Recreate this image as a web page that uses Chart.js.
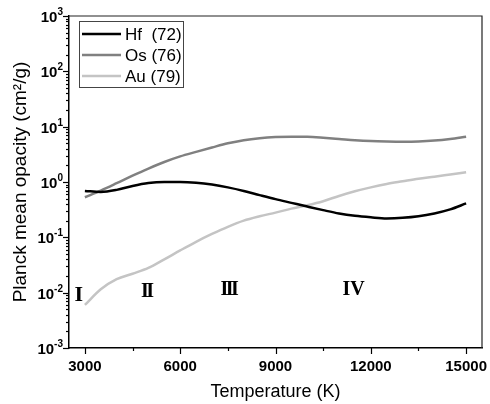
<!DOCTYPE html>
<html><head><meta charset="utf-8">
<script src="https://cdn.jsdelivr.net/npm/chart.js@4/dist/chart.umd.min.js"></script>
<style>html,body{margin:0;padding:0;background:#fff}</style>
</head><body>
<canvas id="c" width="490" height="404"></canvas>
<script>
// ---- data ----
const temperatures = [3000,3500,4000,4500,5000,5500,6000,6500,7000,7500,8000,8500,9000,9500,10000,10500,11000,11500,12000,12500,13000,13500,14000,14500,15000];
const hfValues = [0.69,0.66,0.72,0.85,0.96,1.0,1.0,0.97,0.9,0.8,0.69,0.58,0.49,0.42,0.36,0.31,0.27,0.245,0.23,0.22,0.225,0.24,0.27,0.32,0.41];
const osValues = [0.53,0.7,0.95,1.3,1.75,2.3,2.9,3.5,4.2,5.0,5.7,6.2,6.5,6.6,6.55,6.3,6.0,5.7,5.5,5.4,5.35,5.4,5.6,6.0,6.6];
const auValues = [0.006,0.0115,0.0175,0.022,0.028,0.04,0.058,0.083,0.115,0.155,0.2,0.24,0.28,0.33,0.38,0.45,0.56,0.68,0.8,0.92,1.03,1.15,1.25,1.37,1.5];
const seriesLabels = ['Hf  (72)','Os (76)','Au (79)'];
const seriesColors = ['#000000','#808080','#c4c4c4'];
const xTickValues = [3000,4500,6000,7500,9000,10500,12000,13500,15000];
const xLabelStep = 3000;
const yExponents = [-3,-2,-1,0,1,2,3];
const regionLabels = ['I','II','III','IV'];
const regionAnchorsT = [2810,4930,7520,11460];
const regionAnchorsY = [0.0091,0.0103,0.0112,0.0112];
const xTitle = 'Temperature (K)';
const yTitle = 'Planck mean opacity (cm\u00B2/g)';

const SANS = '"Liberation Sans", Arial, sans-serif';
const SERIF = '"Liberation Serif", "Times New Roman", serif';

function series(vals){ return temperatures.map((t,i)=>({x:t,y:vals[i]})); }

const deco = {
  id:'deco',
  afterDatasetsDraw(chart){
    const {ctx, chartArea:a, scales:{x,y}} = chart;
    ctx.save();
    // frame top/right
    ctx.strokeStyle='#222'; ctx.lineWidth=1.2;
    ctx.beginPath(); ctx.moveTo(a.left,a.top); ctx.lineTo(a.right,a.top); ctx.lineTo(a.right,a.bottom); ctx.stroke();
    // x tick marks
    ctx.strokeStyle='#000'; ctx.lineWidth=1.2;
    xTickValues.forEach(v=>{
      const px=Math.round(x.getPixelForValue(v))+0.5;
      const len = v%xLabelStep===0?6:3;
      ctx.beginPath(); ctx.moveTo(px,a.bottom); ctx.lineTo(px,a.bottom+len); ctx.stroke();
    });
    // y tick marks
    yExponents.forEach(e=>{
      const base=Math.pow(10,e);
      let py=Math.round(y.getPixelForValue(base))+0.5;
      ctx.beginPath(); ctx.moveTo(a.left-6,py); ctx.lineTo(a.left,py); ctx.stroke();
      if(e<3){
        for(let k=2;k<=9;k++){
          py=Math.round(y.getPixelForValue(k*base))+0.5;
          ctx.beginPath(); ctx.moveTo(a.left-3,py); ctx.lineTo(a.left,py); ctx.stroke();
        }
      }
    });
    // y labels with superscripts
    ctx.fillStyle='#000';
    const rightEdge = a.left-6;
    yExponents.forEach(e=>{
      const py=y.getPixelForValue(Math.pow(10,e));
      const exp = (e<0?'-':'')+Math.abs(e);
      ctx.font='bold 10px '+SANS;
      const we=ctx.measureText(exp).width;
      ctx.textAlign='left'; ctx.textBaseline='alphabetic';
      ctx.fillText(exp, rightEdge-we, py-1);
      ctx.font='bold 15px '+SANS;
      ctx.textAlign='right'; ctx.textBaseline='middle';
      ctx.fillText('10', rightEdge-we, py+2);
    });
    // legend
    ctx.strokeStyle='#444'; ctx.lineWidth=1;
    ctx.strokeRect(79.5,21.5,104,66);
    seriesLabels.forEach((lab,i)=>{
      const ly=34+i*21;
      ctx.strokeStyle=seriesColors[i]; ctx.lineWidth=2.5;
      ctx.beginPath(); ctx.moveTo(82,ly); ctx.lineTo(121,ly); ctx.stroke();
      ctx.fillStyle='#000'; ctx.font='17px '+SANS; ctx.textAlign='left'; ctx.textBaseline='middle';
      ctx.fillText(lab,125,ly+1);
    });
    // region labels
    regionLabels.forEach((lab,i)=>{
      const px=x.getPixelForValue(regionAnchorsT[i]);
      const py=y.getPixelForValue(regionAnchorsY[i]);
      ctx.font = 'bold '+(lab==='I'?22:20)+'px '+SERIF;
      ctx.letterSpacing = (lab==='II'||lab==='III') ? '-2.5px' : '0px';
      const w=ctx.measureText(lab).width;
      ctx.textAlign='left'; ctx.textBaseline='middle';
      ctx.fillText(lab, px-w/2, py);
    });
    ctx.restore();
  }
};

new Chart(document.getElementById('c'), {
  type:'line',
  data:{datasets:[
    {label:seriesLabels[0], data:series(hfValues), borderColor:seriesColors[0], borderWidth:2.5, pointRadius:0, cubicInterpolationMode:'monotone', fill:false},
    {label:seriesLabels[1], data:series(osValues), borderColor:seriesColors[1], borderWidth:2.5, pointRadius:0, cubicInterpolationMode:'monotone', fill:false},
    {label:seriesLabels[2], data:series(auValues), borderColor:seriesColors[2], borderWidth:2.5, pointRadius:0, cubicInterpolationMode:'monotone', fill:false}
  ]},
  options:{
    responsive:false, animation:false, devicePixelRatio:1,
    layout:{padding:{top:16,right:8,left:0,bottom:0}},
    plugins:{legend:{display:false}, tooltip:{enabled:false}},
    scales:{
      x:{type:'linear', min:2500, max:15500,
        grid:{display:false, drawTicks:false},
        border:{display:true, color:'#000', width:1.5},
        afterBuildTicks:s=>{ s.ticks = xTickValues.map(v=>({value:v})); },
        ticks:{autoSkip:false, maxRotation:0, padding:10, color:'#000',
          font:{family:SANS, size:15, weight:'bold'},
          callback:v=> v%xLabelStep===0 ? String(v) : ''},
        title:{display:true, text:xTitle, color:'#000', font:{family:SANS, size:18}, padding:{top:0,bottom:1}},
        afterFit:s=>{ s.height=56; s.paddingLeft=0; s.paddingRight=0; }
      },
      y:{type:'logarithmic', min:1e-3, max:1e3,
        grid:{display:false, drawTicks:false},
        border:{display:true, color:'#000', width:1.5},
        ticks:{display:false},
        title:{display:true, text:yTitle, color:'#000', font:{family:SANS, size:19}, padding:{top:9,bottom:0}},
        afterFit:s=>{ s.width=69; }
      }
    }
  },
  plugins:[deco]
});
</script>
</body></html>
